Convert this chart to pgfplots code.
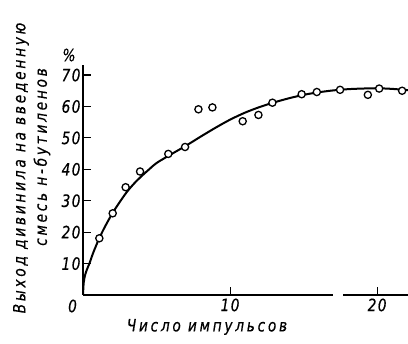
\documentclass[border=0pt]{standalone}
\usepackage{fontspec}
\setmainfont{DejaVu Sans Condensed}
\newfontfamily\gost{DejaVu Sans Condensed Oblique}[FakeStretch=0.9, LetterSpace=8, FakeBold=0.4]
\newfontfamily\gostlab{DejaVu Sans Condensed Oblique}[FakeStretch=0.9, LetterSpace=16, FakeBold=0.4]
\usepackage{pgfplots}
\pgfplotsset{compat=1.18}
\begin{document}
\begin{tikzpicture}
\useasboundingbox (-83pt,-49pt) rectangle (325pt,295pt);
\begin{axis}[
  at={(0pt,0pt)}, anchor=south west,
  scale only axis, width=325pt, height=230pt,
  xmin=0, xmax=22.1, ymin=0, ymax=73.2,
  axis lines=left,
  axis line style={-, line width=1.4pt},
  xtick={10,20}, ytick={10,20,...,70},
  tick align=inside, major tick length=8pt,
  tick style={line width=1.1pt, black},
  ticklabel style={font=\gost\fontsize{17}{17}\selectfont},
  /pgf/number format/assume math mode=true,
  yticklabel style={xshift=1pt},
  clip=false,
]
\addplot[line width=2pt, smooth, tension=0.5] coordinates {
(0,0) (0.05,4) (0.15,6.5) (0.3,8.5) (0.45,10.2) (0.7,13.5) (1.1,18) (1.5,21.8)
(2,26) (2.5,29.6) (3,32.9) (3.5,35.6) (4,37.9) (4.5,40) (5,42.0) (6,44.8)
(7,47.5) (8,50.4) (9,53.2) (10,55.8) (11,58.0) (12,59.8) (13,61.3)
(14,62.6) (15,63.7) (16,64.5) (17,65.1) (18,65.5) (19,65.7)
(20,65.8) (21,65.6) (22.1,65.2)
};
\addplot[only marks, mark=*, mark size=3.6pt,
  mark options={fill=white, draw=black, line width=1.3pt}] coordinates {
(1.11,18.05) (2.02,26.0) (2.90,34.3) (3.88,39.3) (5.8,44.9) (6.94,47.1)
(7.85,59.1) (8.8,59.7) (10.86,55.3) (11.93,57.3) (12.88,61.2) (14.87,63.9)
(15.9,64.6) (17.48,65.3) (19.37,63.7) (20.14,65.7) (21.7,65.0)
};
\draw[white, line width=4pt] (axis cs:17.03,0) -- (axis cs:17.69,0);
\end{axis}
\node[font=\gost\fontsize{17}{17}\selectfont] at (-14pt,240pt) {\%};
\node[font=\gost\fontsize{17}{17}\selectfont] at (-10.5pt,-11pt) {0};
\node[font=\gostlab\fontsize{17}{17}\selectfont] at (124pt,-32pt) {Число импульсов};
\node[font=\gostlab\fontsize{17}{17}\selectfont, rotate=90] at (-62pt,127pt) {Выход дивинила на введенную};
\node[font=\gostlab\fontsize{17}{17}\selectfont, rotate=90] at (-41pt,138pt) {смесь н-бутиленов};
\end{tikzpicture}
\end{document}
